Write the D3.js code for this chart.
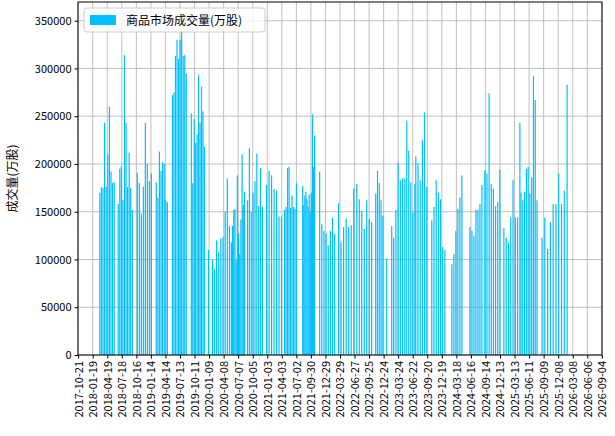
<!DOCTYPE html>
<html>
<head>
<meta charset="utf-8">
<title>商品市场成交量</title>
<script src="https://cdn.jsdelivr.net/npm/d3@7/dist/d3.min.js"></script>
<style>
  body { margin: 0; background: #fff; }
  text { font-family: "Noto Sans CJK SC", "DejaVu Sans", sans-serif; }
</style>
</head>
<body>
<svg id="chart" width="615" height="436"></svg>
<script>
// segments of trading data: start date, end date, volume (thousand 万股)
var segStarts = ["2018-03-04","2018-06-26","2018-10-22","2019-02-16","2019-05-27","2019-09-21","2020-01-05","2020-02-11","2020-05-26","2020-09-03","2020-12-30","2021-04-20","2021-08-10","2021-11-23","2022-03-20","2022-07-11","2022-11-05","2023-01-12","2023-02-24","2023-05-16","2023-07-11","2023-10-18","2024-02-19","2024-06-10","2024-09-10","2025-01-06","2025-04-22","2025-08-30"];
var segEnds = ["2018-06-01","2018-09-21","2019-01-17","2019-04-26","2019-08-21","2019-12-11","2020-01-30","2020-05-14","2020-08-15","2020-12-04","2021-04-01","2021-07-03","2021-10-23","2022-02-24","2022-06-22","2022-10-11","2022-12-19","2023-02-12","2023-05-04","2023-07-05","2023-09-17","2024-01-07","2024-04-21","2024-08-23","2024-12-12","2025-04-15","2025-07-30","2026-02-01"];
var segValues = [
  [170,176,175,243,176,210,260,192,180,181],
  [158,195,198,162,314,243,176,212,175,152],
  [191,180,148,176,243,200,182,190],
  [181,165,213,193,202,200,162,160],
  [272,275,313,330,310,330,340,313,314,295],
  [253,180,247,222,231,293,243,281,255,218],
  [110,100],
  [90,120,108,122,123,150,185,135],
  [118,135,152,153,100,188,127,106,142,210,157,171],
  [162,217,150,170,182,211,156,196,155],
  [178,193,188,174,172,145,145],
  [152,155,196,197,154,167,155,153,180],
  [177,157,167,171,163,155,168,150,170,252,197,230],
  [192,137,130,127,115,130,144,127],
  [159,118,134,143,134,136,174],
  [179,163,151,132,162,143,139],
  [169,193,180,162,146],
  [101,135],
  [123,152,201,183,185,185],
  [245,214,181,149,179],
  [208,201,183,225,254,176],
  [141,155,183,170,163,113,110],
  [95,106,130,153,165,188],
  [134,130,125,152,152,158,178],
  [193,190,274,179,174,156,160,194],
  [133,123,118,144,183,144,144,243],
  [170,162,171,195,197,169,186,292,267,162],
  [123,144,111,139,158,158,190,158,172,283]
];
var tickDates = ["2017-10-21","2018-01-19","2018-04-19","2018-07-18","2018-10-16","2019-01-14","2019-04-14","2019-07-13","2019-10-11","2020-01-09","2020-04-08","2020-07-07","2020-10-05","2021-01-03","2021-04-03","2021-07-02","2021-09-30","2021-12-29","2022-03-29","2022-06-27","2022-09-25","2022-12-24","2023-03-24","2023-06-22","2023-09-20","2023-12-19","2024-03-18","2024-06-16","2024-09-14","2024-12-13","2025-03-13","2025-06-11","2025-09-09","2025-12-08","2026-03-08","2026-06-06","2026-09-04"];
var yTicks = [0,50000,100000,150000,200000,250000,300000,350000];

var parse = d3.utcParse("%Y-%m-%d");
var data = [];
segValues.forEach(function (vals, i) {
  var a = parse(segStarts[i]), b = parse(segEnds[i]);
  vals.forEach(function (v, j) {
    var t = vals.length > 1 ? j / (vals.length - 1) : 0;
    data.push({ date: new Date(+a + t * (b - a)), value: v * 1000 });
  });
});

var margin = { top: 2, right: 13, bottom: 81, left: 78 };
var W = 615, H = 436;
var svg = d3.select("#chart");
var g = svg.append("g").attr("transform", "translate(" + margin.left + "," + margin.top + ")");
var w = W - margin.left - margin.right, h = H - margin.top - margin.bottom;

var t0 = parse(tickDates[0]), t1 = parse(tickDates[tickDates.length - 1]);
var x = d3.scaleUtc().domain([new Date(+t0 - 86400000 * 1), new Date(+t1 + 86400000 * 1)]).range([0, w]);
var y = d3.scaleLinear().domain([0, 369600]).range([h, 0]);

// grid
g.append("g").selectAll("line").data(tickDates).enter().append("line")
  .attr("x1", function (d) { return x(parse(d)); }).attr("x2", function (d) { return x(parse(d)); })
  .attr("y1", 0).attr("y2", h).attr("stroke", "#b0b0b0").attr("stroke-width", 0.8);
g.append("g").selectAll("line").data(yTicks).enter().append("line")
  .attr("x1", 0).attr("x2", w).attr("y1", function (d) { return y(d); }).attr("y2", function (d) { return y(d); })
  .attr("stroke", "#b0b0b0").attr("stroke-width", 0.8);

// bars
g.append("g").selectAll("rect").data(data).enter().append("rect")
  .attr("x", function (d) { return x(d.date) - 0.6; })
  .attr("width", 1.2)
  .attr("y", function (d) { return y(d.value); })
  .attr("height", function (d) { return h - y(d.value); })
  .attr("fill", "#00bfff");

// axes
var xAxis = d3.axisBottom(x).tickValues(tickDates.map(parse)).tickFormat(d3.utcFormat("%Y-%m-%d")).tickSize(3.5);
var gx = g.append("g").attr("transform", "translate(0," + h + ")").call(xAxis);
gx.selectAll("text").attr("transform", "rotate(-90)").attr("text-anchor", "end")
  .attr("x", -6).attr("y", 0).attr("dy", "0.35em").style("font-size", "11px").attr("fill", "#000");
var gy = g.append("g").call(d3.axisLeft(y).tickValues(yTicks).tickFormat(d3.format("d")).tickSize(3.5));
gy.selectAll("text").style("font-size", "11px").attr("fill", "#000");
[gx, gy].forEach(function (a) { a.select(".domain").remove(); a.selectAll("line").attr("stroke", "#000"); });

g.append("rect").attr("width", w).attr("height", h).attr("fill", "none").attr("stroke", "#000").attr("stroke-width", 1);

svg.append("text").attr("transform", "translate(17," + (margin.top + h / 2) + ") rotate(-90)")
  .attr("text-anchor", "middle").style("font-size", "12px").text("成交量(万股)");

// legend
var lg = g.append("g").attr("transform", "translate(6,6)");
lg.append("rect").attr("width", 181).attr("height", 24).attr("rx", 3)
  .attr("fill", "#fff").attr("fill-opacity", 0.8).attr("stroke", "#ccc");
lg.append("rect").attr("x", 6).attr("y", 7).attr("width", 26).attr("height", 10).attr("fill", "#00bfff");
lg.append("text").attr("x", 42).attr("y", 17).style("font-size", "12px").text("商品市场成交量(万股)");
</script>
</body>
</html>
